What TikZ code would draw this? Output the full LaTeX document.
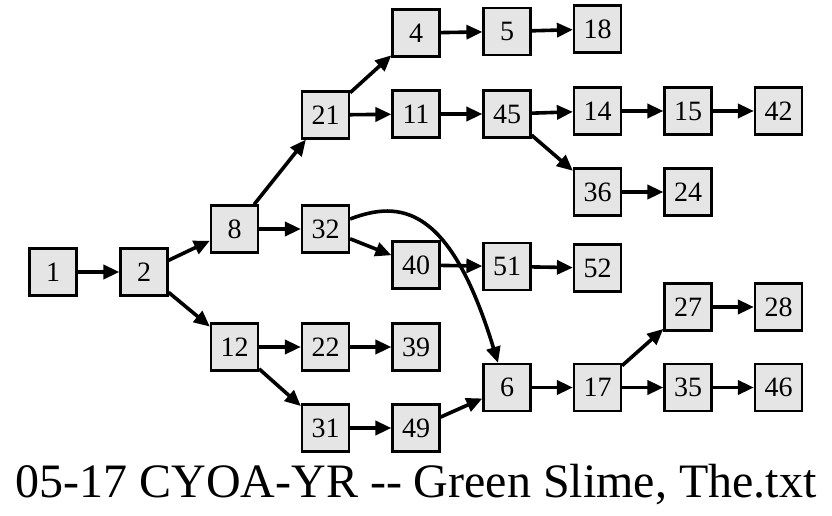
\documentclass[tikz,border=0pt]{standalone}
\usepackage{fontspec}
\setmainfont{Liberation Serif}
\usepackage{tikz}
\usetikzlibrary{arrows.meta}

\begin{document}
\begin{tikzpicture}[x=1pt, y=-1pt,
  box/.style={draw, line width=2.2pt, fill=black!10, minimum size=47pt, inner sep=0pt, font=\fontsize{28}{28}\selectfont},
  edge/.style={line width=3.6pt, -{Triangle[length=16pt, width=14pt]}}]
\useasboundingbox (0,0) rectangle (832,516);
% first columns
\node[box] (n1) at (53,272) {1};
\node[box] (n2) at (144,272) {2};
\node[box] (n8) at (234.5,229) {8};
\node[box] (n12) at (234.5,347) {12};
\node[box] (n21) at (325.5,115) {21};
\node[box] (n32) at (325.5,229) {32};
\node[box] (n22) at (325.5,347) {22};
\node[box] (n31) at (325.5,428) {31};
\node[box] (n4) at (416,33) {4};
\node[box] (n11) at (416,114) {11};
\node[box] (n40) at (416,265) {40};
\node[box] (n39) at (416,347) {39};
\node[box] (n49) at (416,428) {49};
% middle columns
\node[box] (n5) at (507,31.5) {5};
\node[box] (n45) at (507,114) {45};
\node[box] (n51) at (507,266.5) {51};
\node[box] (n6) at (507,387.5) {6};
\node[box] (n18) at (597.5,29) {18};
\node[box] (n14) at (597.5,111) {14};
\node[box] (n36) at (597.5,192) {36};
\node[box] (n52) at (597.5,268) {52};
\node[box] (n17) at (597.5,387.5) {17};
% last columns
\node[box] (n15) at (688,111) {15};
\node[box] (n24) at (688,192) {24};
\node[box] (n27) at (688,307) {27};
\node[box] (n35) at (688,387.5) {35};
\node[box] (n42) at (778.5,111) {42};
\node[box] (n28) at (778.5,307) {28};
\node[box] (n46) at (778.5,387.5) {46};
% edges
\draw[edge] (n1) -- (n2);
\draw[edge] (n2) -- (n8);
\draw[edge] (n2) -- (n12);
\draw[edge] (n8) -- (n21);
\draw[edge] (n8) -- (n32);
\draw[edge] (n12) -- (n22);
\draw[edge] (n12) -- (n31);
\draw[edge] (n21) -- (n4);
\draw[edge] (n21) -- (n11);
\draw[edge] (n32) -- (n40);
\draw[edge] (n22) -- (n39);
\draw[edge] (n31) -- (n49);
\draw[edge] (n4) -- (n5);
\draw[edge] (n5) -- (n18);
\draw[edge] (n11) -- (n45);
\draw[edge] (n45) -- (n14);
\draw[edge] (n45) -- (n36);
\draw[edge] (n14) -- (n15);
\draw[edge] (n15) -- (n42);
\draw[edge] (n36) -- (n24);
\draw[edge] (n40) -- (n51);
\draw[edge] (n51) -- (n52);
\draw[edge] (n49) -- (n6);
\draw[edge] (n6) -- (n17);
\draw[edge] (n17) -- (n27);
\draw[edge] (n17) -- (n35);
\draw[edge] (n27) -- (n28);
\draw[edge] (n35) -- (n46);
% long bend from 32 down to 6
\draw[edge] ([yshift=10pt]n32.east) .. controls (400,200) and (450,205) .. ([xshift=-9pt]n6.north);
% caption
\node[anchor=base, font=\fontsize{48}{48}\selectfont, inner sep=0pt] (title) at (416,497) {05-17 CYOA-YR -\kern0pt- Green Slime, The.txt};
\end{tikzpicture}
\end{document}
